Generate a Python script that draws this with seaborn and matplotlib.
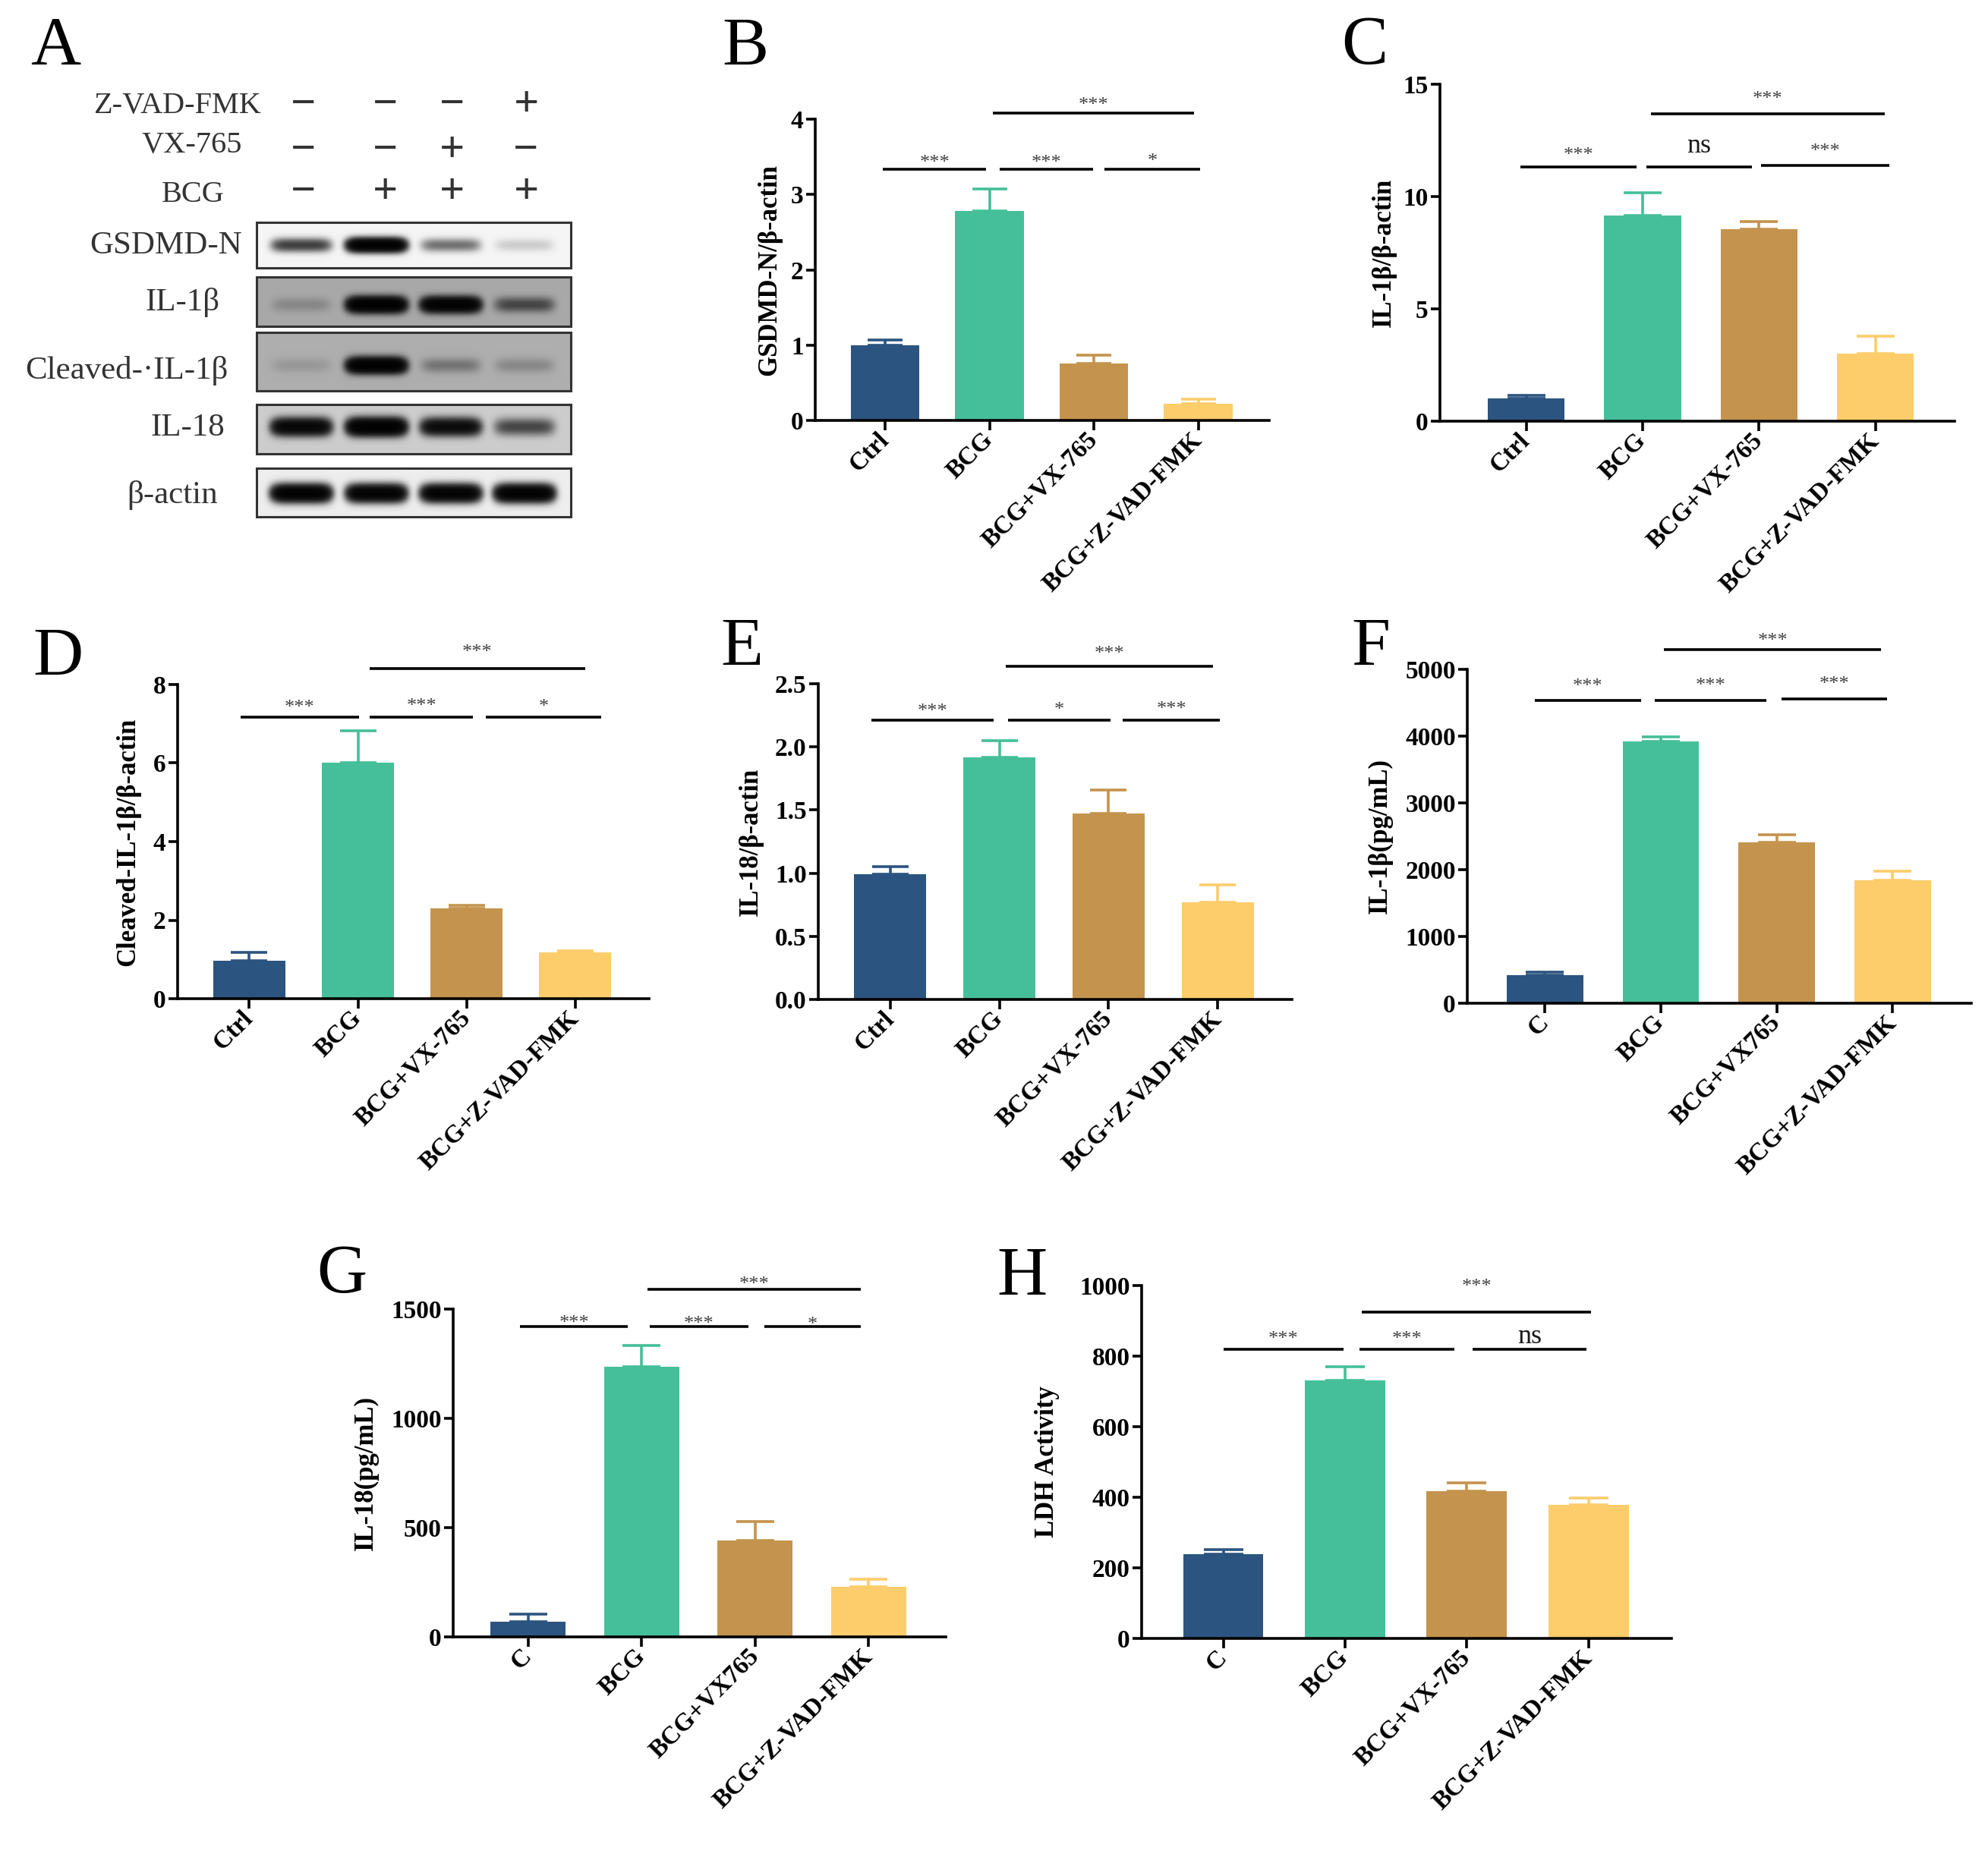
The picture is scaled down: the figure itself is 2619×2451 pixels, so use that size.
import numpy as np
import pandas as pd
import matplotlib
matplotlib.use('Agg')
import matplotlib.pyplot as plt
from matplotlib.patches import Rectangle
import seaborn as sns

sns.set_theme(style='ticks')
plt.rcParams['font.family'] = ['Liberation Serif', 'DejaVu Serif']
plt.rcParams['axes.unicode_minus'] = False

W, H = 2619, 2451

# ---- data ----
groups_wb = ['Ctrl', 'BCG', 'BCG+VX-765', 'BCG+Z-VAD-FMK']
groups_elisa = ['C', 'BCG', 'BCG+VX765', 'BCG+Z-VAD-FMK']
groups_ldh = ['C', 'BCG', 'BCG+VX-765', 'BCG+Z-VAD-FMK']
bar_colors = ['#2C5480', '#45BF99', '#C4934D', '#FDCD6B']

gsdmd_mean = [1.00, 2.78, 0.76, 0.22]
gsdmd_sem = [0.07, 0.29, 0.11, 0.06]
il1b_mean = [1.00, 9.16, 8.55, 3.02]
il1b_sem = [0.14, 1.01, 0.35, 0.76]
cleaved_mean = [0.96, 6.00, 2.29, 1.17]
cleaved_sem = [0.22, 0.82, 0.09, 0.05]
il18_mean = [0.99, 1.92, 1.47, 0.77]
il18_sem = [0.06, 0.13, 0.19, 0.14]
il1b_elisa_mean = [423, 3922, 2404, 1837]
il1b_elisa_sem = [46, 70, 122, 139]
il18_elisa_mean = [70, 1237, 440, 228]
il18_elisa_sem = [35, 97, 89, 36]
ldh_mean = [238, 732, 418, 378]
ldh_sem = [13, 38, 22, 20]

# significance labels: [BCG vs Z-VAD (top), Ctrl vs BCG, BCG vs VX, VX vs Z-VAD]
sig_b = ['***', '***', '***', '*']
sig_c = ['***', '***', 'ns', '***']
sig_d = ['***', '***', '***', '*']
sig_e = ['***', '***', '*', '***']
sig_f = ['***', '***', '***', '***']
sig_g = ['***', '***', '***', '*']
sig_h = ['***', '***', '***', 'ns']

# western blot
treat_labels = ['Z-VAD-FMK', 'VX-765', 'BCG']
treat_signs = [['-', '-', '-', '+'],
               ['-', '-', '+', '-'],
               ['-', '+', '+', '+']]
blot_rows = ['GSDMD-N', 'IL-1β', 'Cleaved-·IL-1β', 'IL-18', 'β-actin']
band_strength = [[0.30, 1.00, 0.17, 0.04],
                 [0.05, 1.00, 0.90, 0.20],
                 [0.03, 1.00, 0.09, 0.055],
                 [0.75, 1.00, 0.65, 0.24],
                 [0.95, 0.90, 0.90, 0.95]]
blot_bg = [0.96, 0.66, 0.68, 0.80, 0.93]

# ---- layout (pixels) ----
# sig bracket geometry per panel: x1, x2, line y, text y
geo_b = [(1.03, 2.96, 4.08, 4.27), (-0.02, 0.97, 3.33, 3.50), (1.10, 1.99, 3.33, 3.50), (2.10, 3.02, 3.33, 3.52)]
geo_c = [(1.07, 3.08, 13.69, 14.62), (-0.05, 0.95, 11.31, 12.12), (1.03, 1.94, 11.31, 12.24), (2.02, 3.12, 11.38, 12.29)]
geo_d = [(1.11, 3.09, 8.40, 8.99), (-0.08, 1.01, 7.17, 7.58), (1.11, 2.06, 7.17, 7.60), (2.18, 3.24, 7.17, 7.59)]
geo_e = [(1.06, 2.96, 2.641, 2.786), (-0.17, 0.95, 2.214, 2.331), (1.08, 2.02, 2.214, 2.34), (2.13, 3.02, 2.214, 2.35)]
geo_f = [(1.03, 2.90, 5301, 5521), (-0.09, 0.83, 4531, 4838), (0.95, 1.91, 4531, 4849), (2.04, 2.95, 4554, 4873)]
geo_g = [(1.05, 2.93, 1590, 1641), (-0.07, 0.88, 1419, 1466), (1.07, 1.94, 1419, 1462), (2.08, 2.93, 1419, 1459)]
geo_h = [(1.14, 3.02, 925, 1015), (0.00, 0.99, 820, 867), (1.12, 1.90, 820, 867), (2.05, 2.98, 820, 854)]

fig = plt.figure(figsize=(W / 100, H / 100), dpi=100)
fig.patch.set_facecolor('white')

ax0 = fig.add_axes([0, 0, 1, 1])
ax0.axis('off')

# ---- panel A: western blot ----
bx0, bx1 = 338, 752
blot_y = [(293, 353), (365, 430), (438, 515), (533, 598), (617, 681)]
lane_x = [397, 496, 594, 691]
band_dy = [0, 4, 5, -3, 1]
band_h = [8, 9, 9, 10, 10]
band_w = 38
for r in range(len(blot_rows)):
    ya, yb = blot_y[r]
    X, Y = np.meshgrid(np.arange(bx0, bx1) + 0.5, np.arange(ya, yb) + 0.5)
    dens = np.zeros_like(X)
    yc = (ya + yb) / 2 + band_dy[r]
    for lx, s in zip(lane_x, band_strength[r]):
        shape = np.exp(-((X - lx) / band_w) ** 6) * np.exp(-((Y - yc) / band_h[r]) ** 2)
        dens += 4.5 * s * shape
    img = blot_bg[r] * np.exp(-dens)
    ax0.imshow(img, cmap='gray', vmin=0, vmax=1, extent=(bx0, bx1, yb, ya),
               interpolation='bilinear', aspect='auto')
    ax0.add_patch(Rectangle((bx0, ya), bx1 - bx0, yb - ya, fill=False, ec='#333333', lw=2.2))

row_lab_x = [319, 290, 301, 296, 287]
row_lab_y = [324, 399, 488, 564, 653]
for lab, x, y in zip(blot_rows, row_lab_x, row_lab_y):
    ax0.text(x, y, lab, ha='right', va='center', fontsize=31, color='#333333')

treat_x = [344, 319, 296]
treat_y = [139, 191, 256]
sign_x = [400, 508, 596, 693]
sign_y = [139, 199, 254]
for lab, x, y, signs, sy in zip(treat_labels, treat_x, treat_y, treat_signs, sign_y):
    ax0.text(x, y, lab, ha='right', va='center', fontsize=29, color='#333333')
    for sx, sg in zip(sign_x, signs):
        ax0.text(sx, sy, '\u2212' if sg == '-' else '+', ha='center', va='center',
                 fontsize=42, fontweight='bold', color='#333333')

ax0.set_xlim(0, W)
ax0.set_ylim(H, 0)


def bar_panel(box, xleft, cats, means, sems, yticks, ylabel, ylab_x, sig_labels, geo, tick_fmt='{:g}'):
    x0, x1, ytop, ybot = box
    ax = fig.add_axes([x0 / W, 1 - ybot / H, (x1 - x0) / W, (ybot - ytop) / H])
    ax.patch.set_alpha(0)
    df = pd.DataFrame({'group': cats, 'value': means})
    sns.barplot(data=df, x='group', y='value', hue='group', order=cats, hue_order=cats,
                palette=bar_colors, width=0.66, linewidth=0, errorbar=None, legend=False,
                saturation=1, ax=ax)
    xright = 3.68
    ax.set_xlim(xleft, xright)
    ax.set_ylim(0, yticks[-1])
    bar_px = (x1 - x0) / (xright - xleft) * 0.66
    cap_pt = bar_px / 4 * 0.72
    for i, (m, s, c) in enumerate(zip(means, sems, bar_colors)):
        ax.errorbar(i, m, yerr=[[0], [s]], fmt='none', ecolor=c, elinewidth=2.6,
                    capsize=cap_pt, capthick=2.6, zorder=3, clip_on=False)
    sns.despine(ax=ax)
    for sp in ['left', 'bottom']:
        ax.spines[sp].set_linewidth(2.6)
        ax.spines[sp].set_color('black')
    ax.tick_params(axis='both', width=2.6, length=9, color='black', direction='out')
    ax.tick_params(axis='x', pad=6)
    ax.tick_params(axis='y', pad=2)
    ax.set_xticks(range(len(cats)))
    ax.set_xticklabels(cats, rotation=45, ha='right', va='center', rotation_mode='anchor',
                       fontsize=24, fontweight='bold', color='black')
    ax.set_yticks(yticks)
    ax.set_yticklabels([tick_fmt.format(t) for t in yticks], fontsize=24,
                       fontweight='bold', color='black')
    ax.set_xlabel('')
    ax.set_ylabel(ylabel, fontsize=25, fontweight='bold', color='black')
    ax.yaxis.set_label_coords((ylab_x - x0) / (x1 - x0), 0.5)
    ax.yaxis.label.set_va('center')
    for (xa, xb, yl, yt), lab in zip(geo, sig_labels):
        ax.plot([xa, xb], [yl, yl], color='black', lw=2.6, clip_on=False,
                solid_capstyle='butt')
        if lab == 'ns':
            fs, off, col = 26, -0.23 * 26, '#1a1a1a'
        else:
            fs, off, col = 19, -0.56 * 19, '#404040'
        ax.annotate(lab, ((xa + xb) / 2, yt), xytext=(0, off), textcoords='offset points',
                    ha='center', va='baseline', fontsize=fs, color=col, annotation_clip=False)
    return ax


bar_panel((1074, 1672, 157, 554), -0.67, groups_wb, gsdmd_mean, gsdmd_sem,
          [0, 1, 2, 3, 4], 'GSDMD-N/β-actin', 1014, sig_b, geo_b)
bar_panel((1897, 2575, 111, 555), -0.74, groups_wb, il1b_mean, il1b_sem,
          [0, 5, 10, 15], 'IL-1β/β-actin', 1823, sig_c, geo_c)
bar_panel((234, 855, 902, 1316), -0.66, groups_wb, cleaved_mean, cleaved_sem,
          [0, 2, 4, 6, 8], 'Cleaved-IL-1β/β-actin', 169, sig_d, geo_d)
bar_panel((1078, 1702, 901, 1317), -0.66, groups_wb, il18_mean, il18_sem,
          [0.0, 0.5, 1.0, 1.5, 2.0, 2.5], 'IL-18/β-actin', 989, sig_e, geo_e, '{:.1f}')
bar_panel((1933, 2597, 882, 1322), -0.67, groups_elisa, il1b_elisa_mean, il1b_elisa_sem,
          [0, 1000, 2000, 3000, 4000, 5000], 'IL-1β(pg/mL)', 1818, sig_f, geo_f)
bar_panel((597, 1246, 1725, 2157), -0.66, groups_elisa, il18_elisa_mean, il18_elisa_sem,
          [0, 500, 1000, 1500], 'IL-18(pg/mL)', 482, sig_g, geo_g)
bar_panel((1504, 2202, 1694, 2159), -0.67, groups_ldh, ldh_mean, ldh_sem,
          [0, 200, 400, 600, 800, 1000], 'LDH Activity', 1380, sig_h, geo_h)

# panel letters
letters = ['A', 'B', 'C', 'D', 'E', 'F', 'G', 'H']
letter_xy = [(40, 85), (951, 86), (1767, 84), (43, 890), (949, 877), (1780, 877), (417, 1703), (1313, 1706)]
for lt, (x, y) in zip(letters, letter_xy):
    fig.text(x / W, 1 - y / H, lt, fontsize=66, ha='left', va='baseline', color='black')

fig.savefig('out.png', dpi=100, facecolor='white')
